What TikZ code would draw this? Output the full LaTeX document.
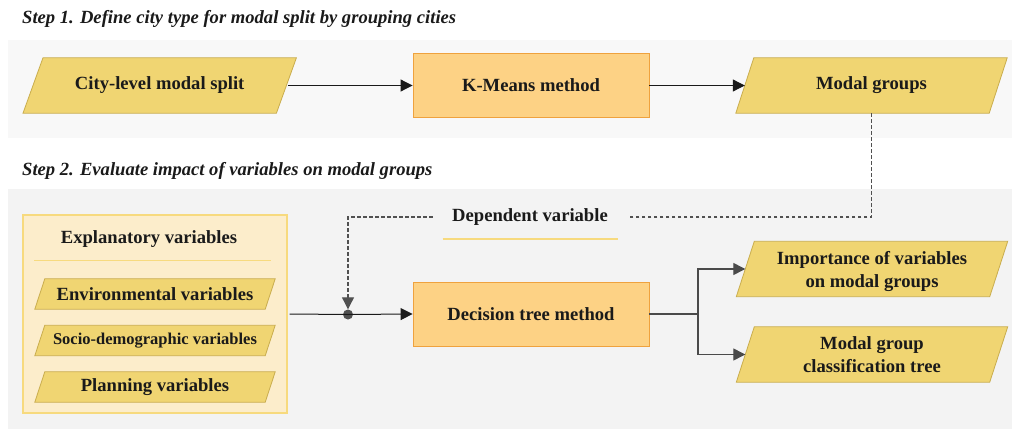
\documentclass[tikz,border=0pt]{standalone}
\usepackage{fontspec}
\setmainfont{Liberation Serif}
\usetikzlibrary{arrows.meta,calc}
\pgfdeclarelayer{panels}
\pgfdeclarelayer{shapes}
\pgfsetlayers{panels,shapes,main}

\definecolor{panelA}{HTML}{F8F8F8}
\definecolor{panelB}{HTML}{F3F3F3}
\definecolor{paraFill}{HTML}{F0D572}
\definecolor{paraLine}{HTML}{C9AD4E}
\definecolor{boxFill}{HTML}{FDD285}
\definecolor{boxLine}{HTML}{EFA23E}
\definecolor{groupFill}{HTML}{FCEDCB}
\definecolor{groupLine}{HTML}{F7DA7E}
\definecolor{ink}{HTML}{1A1A1A}
\definecolor{wire}{HTML}{4A4A4A}
\definecolor{hubcol}{HTML}{505050}

% outline of a slanted (parallelogram) box around a named node
\newcommand\paraoutline[2]{%
  \begin{pgfonlayer}{shapes}
    \draw[fill=paraFill, draw=paraLine, line width=0.8pt]
      ([xshift=#2]#1.north west) -- ([xshift=#2]#1.north east) --
      ([xshift=-#2]#1.south east) -- ([xshift=-#2]#1.south west) -- cycle;
  \end{pgfonlayer}}

\tikzset{
  lbl/.style={font=\fontsize{18.6}{23}\selectfont\bfseries, text=ink, align=center},
  steptitle/.style={font=\fontsize{18.6}{23}\selectfont\bfseries\itshape, text=ink, anchor=base west, inner sep=0pt},
  para/.style={lbl, minimum width=253pt, minimum height=55pt, inner sep=0pt},
  smallpara/.style={lbl, minimum width=230pt, minimum height=30pt, inner sep=0pt},
  method/.style={lbl, draw=boxLine, fill=boxFill, line width=0.9pt,
    minimum width=236pt, minimum height=64pt, inner sep=0pt},
  tip/.style={-{Triangle[length=12pt,width=12pt]}},
  flow/.style={draw=ink, line width=1pt, tip},
  branch/.style={draw=wire, line width=1.3pt},
  depline/.style={draw=hubcol, line width=1.1pt, dash pattern=on 3.5pt off 2.5pt},
}

\begin{document}
\begin{tikzpicture}[x=1pt, y=-1pt]
\useasboundingbox (0,0) rectangle (1012,431);

% background panels
\begin{pgfonlayer}{panels}
  \fill[panelA] (8,40) rectangle (1012,138);
  \fill[panelB] (8,189) rectangle (1012,429);
  \node[draw=groupLine, fill=groupFill, line width=1.2pt,
        minimum width=264pt, minimum height=198pt, inner sep=0pt] (expl) at (155,314) {};
\end{pgfonlayer}

% step titles
\node[steptitle] (t1) at (22,23.5) {Step 1. Define city type for modal split by grouping cities};
\node[steptitle] (t2) at (22,175) {Step 2. Evaluate impact of variables on modal groups};

% step 1
\node[para] (city) at (159.7,85.5) {City-level modal split};
\paraoutline{city}{10pt}
\node[method] (kmeans) at (531,85.5) {K-Means method};
\node[para] (modal) at (871.5,85.5) {Modal groups};
\paraoutline{modal}{9pt}

\draw[flow] ([xshift=2pt]city.east) -- (kmeans.west);
\draw[flow] (kmeans.east) -- (modal.west);

% step 2: explanatory variables group
\node[lbl] (exhead) at (149,239) {Explanatory variables};
\draw[groupLine, line width=1.5pt] ([xshift=12pt,yshift=-46pt]expl.north west) -- ([xshift=-17pt,yshift=-46pt]expl.north east);
\node[smallpara] (env) at (155,294) {Environmental variables};
\paraoutline{env}{5pt}
\node[smallpara, font=\fontsize{16.5}{20}\selectfont\bfseries] (socio) at (155,340.5) {Socio-demographic variables};
\paraoutline{socio}{5pt}
\node[smallpara] (plan) at (155,387) {Planning variables};
\paraoutline{plan}{5pt}

% decision tree and outputs
\node[method] (dtree) at (531,314) {Decision tree method};
\node[para] (imp) at (872,269) {};
\paraoutline{imp}{9pt}
\node[lbl] (imptext) at ([yshift=-2.5pt]imp.center) {Importance of variables\\on modal groups};
\node[para] (tree) at (872,354.5) {Modal group\\classification tree};
\paraoutline{tree}{9pt}

% junction of inputs
\node[circle, fill=hubcol, inner sep=0pt, minimum size=10pt] (hub) at (348,314.5) {};
\draw[draw=ink, line width=1pt] ([xshift=2pt]expl.east) -- (hub.center);
\draw[flow] (hub.center) -- (dtree.west);

% dependent variable link
\node[lbl, inner xsep=19.5pt, inner ysep=0pt] (dep) at (530,217) {Dependent variable};
\draw[groupLine, line width=1.8pt] ([xshift=10pt,yshift=-22pt]dep.west) -- ([xshift=-9pt,yshift=-22pt]dep.east);
\draw[depline] (modal.south) |- (dep.east);
\draw[depline, tip] (dep.west) -| (hub.north);

% outputs of the decision tree
\coordinate (split) at ($(dtree.east)+(48.6,0)$);
\draw[branch] (dtree.east) -- (split);
\draw[branch, tip] (split) |- (imp.west);
\draw[branch, tip] (split) |- (tree.west);
\end{tikzpicture}
\end{document}
